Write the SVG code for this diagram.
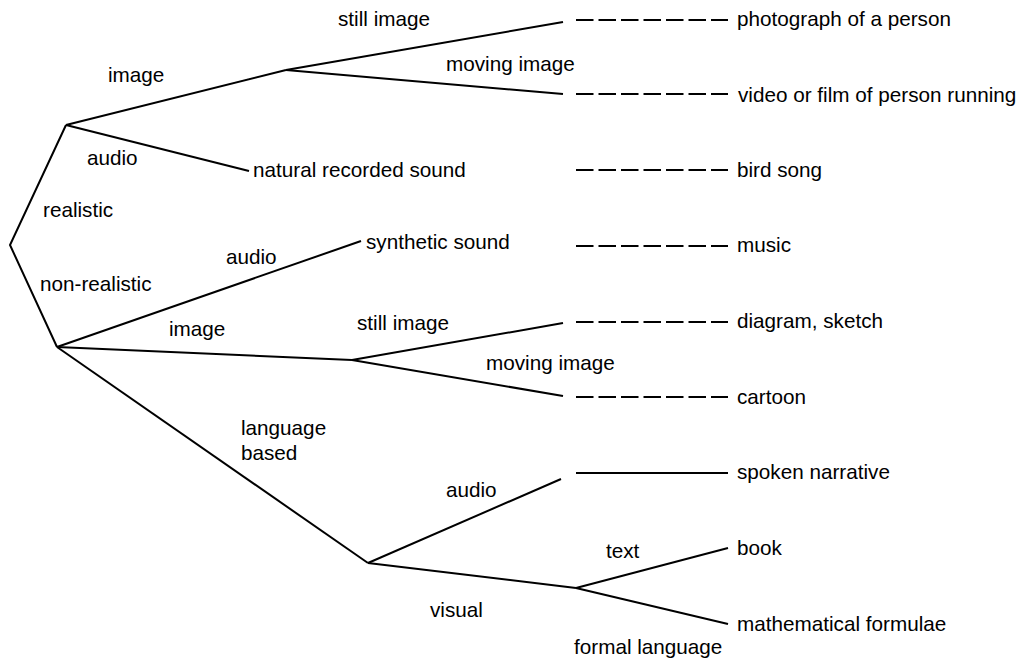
<svg xmlns="http://www.w3.org/2000/svg" width="1019" height="662" viewBox="0 0 1019 662">
  <style>
    .edge { stroke: #000; stroke-width: 2; fill: none; stroke-linecap: butt; stroke-linejoin: miter; }
    .dash { stroke: #000; stroke-width: 2; fill: none; stroke-dasharray: 17.5 5; }
    text { font-family: "Liberation Sans", Arial, sans-serif; font-size: 20.7px; fill: #000; }
  </style>
  <rect width="1019" height="662" fill="#fff"/>

  <!-- tree branches -->
  <g id="connectors">
    <!-- root split -->
    <polyline class="edge" points="66,125 10,245 57,347"/>
    <!-- realistic branch -->
    <line class="edge" x1="66" y1="125" x2="286" y2="70"/>
    <line class="edge" x1="66" y1="125" x2="249" y2="171"/>
    <line class="edge" x1="286" y1="70" x2="563" y2="22"/>
    <line class="edge" x1="286" y1="70" x2="563" y2="94"/>
    <!-- non-realistic branch -->
    <line class="edge" x1="57" y1="347" x2="361" y2="241"/>
    <line class="edge" x1="57" y1="347" x2="352" y2="360"/>
    <line class="edge" x1="352" y1="360" x2="563" y2="323"/>
    <line class="edge" x1="352" y1="360" x2="563" y2="396"/>
    <line class="edge" x1="57" y1="347" x2="368" y2="563"/>
    <!-- language based branch -->
    <line class="edge" x1="368" y1="563" x2="561" y2="479"/>
    <line class="edge" x1="368" y1="563" x2="576" y2="588"/>
    <line class="edge" x1="576" y1="588" x2="728" y2="548"/>
    <line class="edge" x1="576" y1="588" x2="728" y2="624"/>
    <!-- links to examples -->
    <line class="dash" x1="576" y1="20" x2="728" y2="20"/>
    <line class="dash" x1="576" y1="94" x2="728" y2="94"/>
    <line class="dash" x1="576" y1="170" x2="728" y2="170"/>
    <line class="dash" x1="576" y1="246" x2="728" y2="246"/>
    <line class="dash" x1="576" y1="322" x2="728" y2="322"/>
    <line class="dash" x1="576" y1="397" x2="728" y2="397"/>
    <line class="edge" x1="576" y1="473" x2="728" y2="473"/>
  </g>

  <!-- branch labels -->
  <g id="branch-labels">
    <text x="43" y="217">realistic</text>
    <text x="40" y="291">non-realistic</text>
    <text x="108" y="82">image</text>
    <text x="87" y="165">audio</text>
    <text x="338" y="26">still image</text>
    <text x="446" y="71">moving image</text>
    <text x="226" y="264">audio</text>
    <text x="169" y="336">image</text>
    <text x="357" y="330">still image</text>
    <text x="486" y="370">moving image</text>
    <text x="241" y="435">language</text>
    <text x="241" y="460">based</text>
    <text x="446" y="497">audio</text>
    <text x="430" y="617">visual</text>
    <text x="606" y="558">text</text>
    <text x="574" y="654">formal language</text>
  </g>

  <!-- intermediate nodes -->
  <g id="node-natural-sound"><text x="253" y="177">natural recorded sound</text></g>
  <g id="node-synthetic-sound"><text x="366" y="249">synthetic sound</text></g>

  <!-- examples -->
  <g id="node-photograph"><text x="737" y="26">photograph of a person</text></g>
  <g id="node-video"><text x="738" y="102">video or film of person running</text></g>
  <g id="node-bird-song"><text x="737" y="177">bird song</text></g>
  <g id="node-music"><text x="737" y="252">music</text></g>
  <g id="node-diagram"><text x="737" y="328">diagram, sketch</text></g>
  <g id="node-cartoon"><text x="737" y="404">cartoon</text></g>
  <g id="node-spoken"><text x="737" y="479">spoken narrative</text></g>
  <g id="node-book"><text x="737" y="555">book</text></g>
  <g id="node-formulae"><text x="737" y="631">mathematical formulae</text></g>
</svg>
